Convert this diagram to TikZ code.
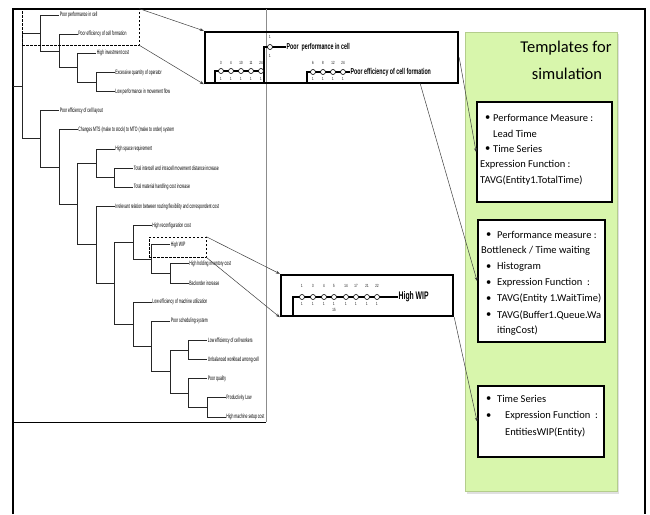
\documentclass[tikz,border=0pt]{standalone}
\usepackage{fontspec}
\setmainfont{Carlito}
\newfontfamily\narrow[FakeStretch=0.62]{Liberation Sans}
\newfontfamily\treefont[FakeStretch=0.55]{Liberation Sans}
\usetikzlibrary{arrows.meta}
\definecolor{panelgreen}{RGB}{216,246,172}
\definecolor{panelborder}{RGB}{180,205,140}
\begin{document}
\begin{tikzpicture}[x=1pt,y=-1pt,
  treeedge/.style={draw=black!85,line width=0.8pt},
  leaf/.style={anchor=west,inner sep=0.7pt,font=\treefont\fontsize{6.3}{7}\selectfont},
  dashbox/.style={draw,dash pattern=on 2.5pt off 1.5pt,line width=0.6pt,inner sep=0pt},
  zoombox/.style={draw,line width=2.4pt,inner sep=0pt},
  chain/.style={line width=2.3pt},
  dot/.style={circle,draw,fill=white,line width=0.6pt,minimum size=5pt,inner sep=0pt},
  tinylab/.style={inner sep=0pt,font=\narrow\fontsize{4.5}{5}\selectfont},
  bigleaf/.style={anchor=west,inner sep=0.5pt,font=\narrow\bfseries\fontsize{8.5}{9}\selectfont},
  panel/.style={draw=panelborder,fill=panelgreen,line width=0.5pt,inner sep=0pt},
  tbox/.style={draw,fill=white,line width=1.8pt,inner sep=0pt},
  ttxt/.style={anchor=west,inner sep=0pt,font=\fontsize{10.5}{12}\selectfont},
  link/.style={draw=black!75,line width=0.5pt,-{Stealth[length=4pt,width=3pt]}}
]
\useasboundingbox (0,0) rectangle (650,514);
\fill[white] (0,0) rectangle (650,514);
% outer frame
\draw[line width=2.4pt] (13,514) -- (13,9) -- (645,9) -- (645,514);
% tree frame
\draw[line width=0.8pt] (13,422) -- (266,422);
\draw[black!45,line width=0.6pt] (266,9) -- (266,422);

% dendrogram junctions
\coordinate (rootin) at (13,85.9);
\coordinate (root) at (22,85.9);
\coordinate (A) at (40.5,32.95);
\coordinate (B) at (59,50.9);
\coordinate (C) at (77.5,67.65);
\coordinate (D) at (96,82);
\coordinate (T) at (40.5,138.8);
\coordinate (U) at (59,166.95);
\coordinate (V) at (77.5,204.1);
\coordinate (E) at (96,163.35);
\coordinate (F) at (114.5,177.7);
\coordinate (G) at (96,244.8);
\coordinate (L) at (114.5,283.25);
\coordinate (I) at (133,242.3);
\coordinate (J) at (151.5,259.05);
\coordinate (K) at (170,273.4);
\coordinate (M) at (133,324.2);
\coordinate (N) at (151.5,346.35);
\coordinate (P) at (170,371.5);
\coordinate (Q) at (188.5,349.95);
\coordinate (R) at (188.5,393.05);
\coordinate (S) at (207,407.4);

% leaves
\node[leaf] (l1) at (59,15) {Poor performance in cell};
\node[leaf] (l2) at (77.5,34.1) {Poor efficiency of cell formation};
\node[leaf] (l3) at (96,53.3) {High investment cost};
\node[leaf] (l4) at (114.5,72.4) {Excessive quantity of operator};
\node[leaf] (l5) at (114.5,91.6) {Low performance in movement flow};
\node[leaf] (l6) at (59,110.7) {Poor efficiency of cell layout};
\node[leaf] (l7) at (77.5,129.8) {Changes MTS (make to stock) to MTO (make to order) system};
\node[leaf] (l8) at (114.5,149) {High space requirement};
\node[leaf] (l9) at (133,168.1) {Total intercell and intracell movement distance increase};
\node[leaf] (l10) at (133,187.3) {Total material handling cost increase};
\node[leaf] (l11) at (114.5,206.4) {Irrelevant relation between routing flexibility and correspondent cost};
\node[leaf] (l12) at (151.5,225.5) {High reconfiguration cost};
\node[leaf] (l13) at (170,244.7) {High WIP};
\node[leaf] (l14) at (188.5,263.8) {High holding inventory cost};
\node[leaf] (l15) at (188.5,283) {Backorder increase};
\node[leaf] (l16) at (151.5,302.1) {Low efficiency of machine utilization};
\node[leaf] (l17) at (170,321.2) {Poor scheduling system};
\node[leaf] (l18) at (207,340.4) {Low efficiency of cell workers};
\node[leaf] (l19) at (207,359.5) {Unbalanced workload among cell};
\node[leaf] (l20) at (207,378.7) {Poor quality};
\node[leaf] (l21) at (225.5,397.8) {Productivity Low};
\node[leaf] (l22) at (225.5,417) {High machine setup cost};

\draw[treeedge] (rootin) -- (root);
\foreach \p/\c in {root/A,root/T,A/B,B/C,C/D,T/U,U/V,V/E,V/G,E/F,G/L,L/I,L/M,I/J,J/K,M/N,N/P,P/Q,P/R,R/S}
  \draw[treeedge] (\p) |- (\c);
\foreach \p/\c in {A/l1,B/l2,C/l3,D/l4,D/l5,T/l6,U/l7,E/l8,F/l9,F/l10,G/l11,I/l12,J/l13,K/l14,K/l15,M/l16,N/l17,Q/l18,Q/l19,R/l20,S/l21,S/l22}
  \draw[treeedge] (\p) |- (\c.west);

% dashed selections
\node[dashbox,minimum width=117pt,minimum height=36pt] (db1) at (80.5,27) {};
\node[dashbox,minimum width=57pt,minimum height=20pt] (db2) at (177.5,247) {};

% zoom box 1
\node[zoombox,minimum width=253pt,minimum height=51pt] (zb1) at (331.5,57.5) {};
\coordinate (s1a) at (215,83);
\coordinate (s1b) at (264,71);
\coordinate (s1c) at (264,83);
\coordinate (s1d) at (286,47);
\coordinate (s2a) at (307,83);
\coordinate (s2b) at (350,72);
\draw[chain] (s1a) |- (s1b);
\draw[chain] (s1c) |- (s1d);
\draw[chain] (s2a) |- (s2b);
\foreach \x/\t [count=\i] in {221/3,231/4,241/10,251/11,261/24}{
  \node[dot] (ca\i) at (\x,71) {};
  \node[tinylab] (ta\i) at (\x,63) {\t};
  \node[tinylab] (ba\i) at (\x,78.5) {1};
}
\node[dot] (cb1) at (270,47) {};
\node[tinylab] (tb1) at (270,37) {1};
\node[tinylab] (bb1) at (270,56) {1};
\foreach \x/\t [count=\i] in {313/6,323/8,333/12,343/24}{
  \node[dot] (cc\i) at (\x,72) {};
  \node[tinylab] (tc\i) at (\x,63) {\t};
  \node[tinylab] (bc\i) at (\x,79) {1};
}
\node[bigleaf] (z1) at (s1d) {Poor\ \ performance in cell};
\node[bigleaf] (z2) at (s2b) {Poor efficiency of cell formation};

% zoom box 2
\node[zoombox,minimum width=172pt,minimum height=41pt] (zb2) at (367,295.5) {};
\coordinate (s3a) at (293,316);
\coordinate (s3b) at (398,297);
\draw[chain] (s3a) |- (s3b);
\foreach \x/\t [count=\i] in {302/1,313/3,324/4,334/5,346/14,356/17,367/21,377/22}{
  \node[dot] (cd\i) at (\x,297) {};
  \node[tinylab] (td\i) at (\x,286) {\t};
  \node[tinylab] (bd\i) at (\x,303.5) {1};
}
\node[tinylab] (bd15) at (334,310) {15};
\node[anchor=west,inner sep=0.5pt,font=\narrow\bfseries\fontsize{11}{12}\selectfont] (z3) at (s3b) {High WIP};

% green panel
\fill[black!12] (466.5,34) rectangle (618.5,494);
\node[panel,minimum width=152pt,minimum height=459pt] (gp) at (541,261.5) {};
\node[inner sep=0pt,font=\fontsize{16.5}{20}\selectfont] (tt1) at (566,48) {Templates for};
\node[inner sep=0pt,font=\fontsize{16.5}{20}\selectfont] (tt2) at (567,74) {simulation};

\node[tbox,minimum width=135pt,minimum height=100pt] (g1) at (544.5,152) {};
\node[ttxt] (g1b1) at (485,118) {•};
\node[ttxt] (g1t1) at (493,118) {Performance Measure :};
\node[ttxt] (g1t2) at (493,133.5) {Lead Time};
\node[ttxt] (g1b3) at (485,149) {•};
\node[ttxt] (g1t3) at (493,149) {Time Series};
\node[ttxt] (g1t4) at (480,164.5) {Expression Function :};
\node[ttxt] (g1t5) at (480,181) {TAVG(Entity1.TotalTime)};

\node[tbox,minimum width=127pt,minimum height=122pt] (g2) at (541.5,281) {};
\node[ttxt] (g2b1) at (486,235) {•};
\node[ttxt] (g2t1) at (497,235) {Performance measure :};
\node[ttxt] (g2t2) at (481,250.5) {Bottleneck / Time waiting};
\node[ttxt] (g2b3) at (486,267) {•};
\node[ttxt] (g2t3) at (497,267) {Histogram};
\node[ttxt] (g2b4) at (486,283) {•};
\node[ttxt] (g2t4) at (497,283) {Expression Function\ \ :};
\node[ttxt] (g2b5) at (486,299) {•};
\node[ttxt] (g2t5) at (497,299) {TAVG(Entity 1.WaitTime)};
\node[ttxt] (g2b6) at (486,315) {•};
\node[ttxt] (g2t6) at (497,315) {TAVG(Buffer1.Queue.Wa};
\node[ttxt] (g2t7) at (497,330.5) {itingCost)};

\node[tbox,minimum width=126pt,minimum height=71pt] (g3) at (541,421.5) {};
\node[ttxt] (g3b1) at (486,399) {•};
\node[ttxt] (g3t1) at (497,399) {Time Series};
\node[ttxt] (g3b2) at (486,416) {•};
\node[ttxt] (g3t2) at (505,416) {Expression Function\ \ :};
\node[ttxt] (g3t3) at (505,432) {EntitiesWIP(Entity)};

% links
\coordinate (zb1out) at (420,83);
\draw[link] (db1.north east) -- (zb1.north west);
\draw[link] (db1.south east) -- (zb1.south west);
\draw[link] (zb1.east) -- (g1.west);
\draw[link] (zb1out) -- (g2.west);
\draw[link] (db2.north east) -- (zb2.north west);
\draw[link] (db2.south east) -- (zb2.south west);
\draw[link] (zb2.south east) -- (g3.west);
\end{tikzpicture}
\end{document}
